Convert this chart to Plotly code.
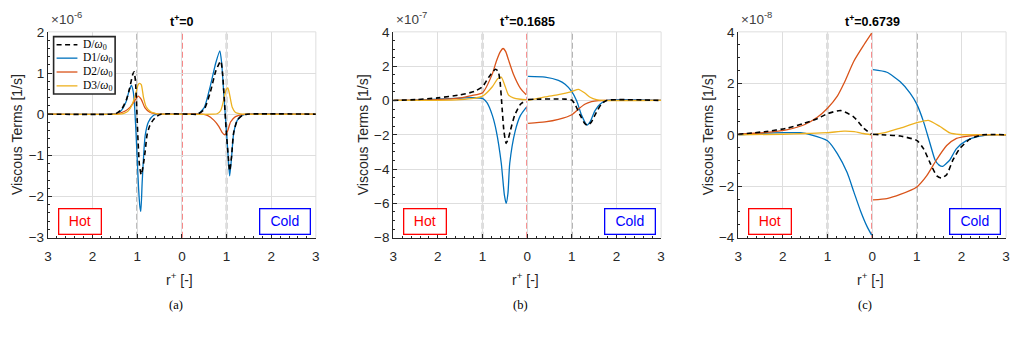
import plotly.graph_objects as go

W, H = 1020, 341

# ---------------- data (display units; panel scale given by exponent) ----------------
X_TICKS = [-3, -2, -1, 0, 1, 2, 3]
X_TICKTEXT = ["3", "2", "1", "0", "1", "2", "3"]
SERIES = ["D", "D1", "D2", "D3"]
SERIES_NAMES = ["D/<i>ω</i><sub>0</sub>", "D1/<i>ω</i><sub>0</sub>",
                "D2/<i>ω</i><sub>0</sub>", "D3/<i>ω</i><sub>0</sub>"]
PANEL_TITLES = ["t<sup>+</sup>=0", "t<sup>+</sup>=0.1685", "t<sup>+</sup>=0.6739"]
PANEL_LABELS = ["(a)", "(b)", "(c)"]
PANEL_EXPONENTS = ["-6", "-7", "-8"]
Y_RANGES = [[-3, 2], [-8, 4], [-4, 4]]
Y_DTICKS = [1, 2, 2]

# Panel (a), x1e-6
A_D_x = [-3, -1.6, -1.47, -1.35, -1.24, -1.17, -1.1, -1.07, -1.04, -1.01, -0.98, -0.95, -0.91, -0.86,
         -0.82, -0.78, -0.72, -0.65, -0.57, -0.47, 0.2, 0.35, 0.5, 0.64, 0.76, 0.87, 0.91, 0.95, 0.99,
         1.04, 1.07, 1.11, 1.16, 1.24, 1.35, 1.46, 3]
A_D_y = [0, 0, 0.02, 0.12, 0.36, 0.63, 0.97, 1.03, 0.8, 0.1, -0.7, -1.25, -1.47, -1.2,
         -0.88, -0.5, -0.28, -0.15, -0.06, 0, 0, 0, 0.12, 0.55, 1.05, 1.29, 1.0, 0.35, -0.35,
         -1.05, -1.38, -1.05, -0.45, -0.15, -0.03, 0, 0]
A_D1_x = [-3, -1.6, -1.45, -1.35, -1.25, -1.18, -1.13, -1.09, -1.06, -1.03, -1.0, -0.97, -0.94, -0.92,
          -0.89, -0.85, -0.82, -0.75, -0.64, -0.5, 0.2, 0.35, 0.5, 0.64, 0.76, 0.85, 0.89, 0.94, 0.99,
          1.04, 1.07, 1.11, 1.16, 1.24, 1.35, 1.46, 3]
A_D1_y = [0, 0, 0.02, 0.1, 0.3, 0.58, 0.70, 0.55, 0.2, -0.4, -1.1, -1.8, -2.25, -2.36,
          -1.66, -0.88, -0.5, -0.19, -0.03, 0, 0, 0, 0.16, 0.70, 1.25, 1.54, 1.25, 0.47, -0.30,
          -1.08, -1.50, -1.08, -0.46, -0.15, -0.03, 0, 0]
A_D2_x = [-3, -1.5, -1.4, -1.28, -1.17, -1.06, -0.98, -0.91, -0.83, -0.72, -0.57, -0.45, 0.45, 0.57,
          0.72, 0.83, 0.90, 0.96, 1.02, 1.09, 1.2, 1.35, 1.5, 3]
A_D2_y = [0, 0, 0.02, 0.07, 0.16, 0.32, 0.44, 0.36, 0.16, 0.05, 0.01, 0, 0, -0.03,
          -0.15, -0.3, -0.44, -0.50, -0.42, -0.19, -0.06, -0.01, 0, 0]
A_D3_x = [-3, -1.4, -1.3, -1.2, -1.13, -1.04, -0.98, -0.95, -0.91, -0.86, -0.80, -0.69, -0.55, -0.45,
          0.7, 0.79, 0.87, 0.94, 0.99, 1.03, 1.07, 1.13, 1.2, 1.31, 1.45, 3]
A_D3_y = [0, 0, 0.02, 0.08, 0.2, 0.47, 0.72, 0.75, 0.72, 0.41, 0.18, 0.05, 0.01, 0,
          0, 0.01, 0.09, 0.36, 0.59, 0.64, 0.47, 0.16, 0.04, 0.01, 0, 0]

# Panel (b), x1e-7  (None separates hot side from cold side)
B_D_x = [-3, -2.5, -2.0, -1.5, -1.19, -1.0, -0.86, -0.71, -0.65, -0.61, -0.56, -0.52, -0.47, -0.42,
         -0.38, -0.28, -0.15, -0.02, None,
         0.02, 0.3, 0.6, 0.85, 1.0, 1.07, 1.19, 1.29, 1.35, 1.44, 1.55, 1.66, 1.78, 3]
B_D_y = [0, 0.05, 0.15, 0.33, 0.52, 0.8, 1.36, 1.82, 1.7, 1.17, -0.5, -1.8, -2.5, -2.2,
         -1.8, -0.87, -0.22, 0.0, None,
         0.06, 0.08, 0.09, 0.08, 0.02, -0.22, -0.87, -1.34, -1.45, -1.25, -0.69, -0.22, 0, 0]
B_D1_x = [-3, -2.5, -2.0, -1.5, -1.2, -1.0, -0.9, -0.78, -0.69, -0.58, -0.51, -0.47, -0.43, -0.39,
          -0.27, -0.15, -0.02, None,
          0.02, 0.4, 0.7, 0.85, 1.0, 1.11, 1.22, 1.34, 1.41, 1.52, 1.63, 1.78, 3]
B_D1_y = [0, 0.02, 0.08, 0.14, 0.16, 0.12, -0.13, -0.87, -1.8, -3.66, -5.52, -6.0, -5.4, -3.66,
          -1.8, -0.87, -0.4, None,
          1.40, 1.36, 1.17, 0.95, 0.52, -0.03, -0.87, -1.43, -1.25, -0.59, -0.22, 0, 0]
B_D2_x = [-3, -2.5, -2.0, -1.5, -1.25, -1.0, -0.78, -0.69, -0.6, -0.54, -0.48, -0.42, -0.31, -0.15,
          -0.02, None,
          0.02, 0.4, 0.7, 1.0, 1.15, 1.29, 1.44, 1.6, 1.75, 3]
B_D2_y = [0, 0.02, 0.05, 0.15, 0.28, 0.45, 1.55, 2.29, 2.85, 3.03, 2.85, 2.38, 1.55, 0.71,
          0.33, None,
          -1.34, -1.25, -1.1, -0.83, -0.5, -0.22, -0.07, -0.01, 0, 0]
B_D3_x = [-3, -2.0, -1.5, -1.2, -1.0, -0.78, -0.66, -0.58, -0.49, -0.42, -0.31, -0.15, -0.02, None,
          0.02, 0.4, 0.7, 1.0, 1.15, 1.29, 1.41, 1.55, 1.7, 3]
B_D3_y = [0, 0.01, 0.05, 0.12, 0.25, 0.80, 1.27, 1.36, 0.80, 0.33, 0.15, 0.07, 0.05, None,
          0, 0.21, 0.34, 0.52, 0.65, 0.43, 0.19, 0.05, 0, 0]

# Panel (c), x1e-8
C_D_x = [-3, -2.41, -1.89, -1.52, -1.22, -1.0, -0.7, -0.41, -0.19, -0.02, None,
         0.02, 0.3, 0.63, 1.0, 1.15, 1.30, 1.45, 1.55, 1.67, 1.81, 1.96, 2.19, 2.48, 3]
C_D_y = [0.02, 0.12, 0.26, 0.45, 0.63, 0.82, 0.94, 0.69, 0.26, 0.02, None,
         0.02, -0.01, -0.05, -0.22, -0.54, -1.10, -1.6, -1.68, -1.55, -0.98, -0.54, -0.17, 0, 0]
C_D1_x = [-3, -2.5, -2.0, -1.6, -1.37, -1.0, -0.78, -0.56, -0.41, -0.26, -0.11, -0.01, None,
          0.02, 0.33, 0.63, 0.85, 1.0, 1.15, 1.30, 1.41, 1.5, 1.58, 1.66, 1.74, 1.89, 2.11, 2.41, 2.7, 3]
C_D1_y = [0, 0.05, 0.08, 0.08, 0.0, -0.23, -0.73, -1.47, -2.22, -2.96, -3.58, -3.9, None,
          2.53, 2.43, 2.06, 1.62, 1.19, 0.51, -0.36, -0.98, -1.18, -1.23, -1.12, -0.98, -0.54, -0.23, -0.05, 0, 0]
C_D2_x = [-3, -2.41, -1.89, -1.52, -1.22, -1.0, -0.78, -0.63, -0.41, -0.19, -0.01, None,
          0.02, 0.33, 0.63, 1.0, 1.22, 1.44, 1.67, 1.89, 2.11, 2.5, 3]
C_D2_y = [0.02, 0.08, 0.2, 0.39, 0.69, 1.03, 1.5, 2.0, 2.86, 3.48, 3.95, None,
          -2.53, -2.48, -2.32, -2.03, -1.6, -0.98, -0.42, -0.14, -0.06, 0, 0]
C_D3_x = [-3, -2.0, -1.5, -1.0, -0.63, -0.4, -0.2, -0.02, None,
          0.02, 0.33, 0.63, 1.0, 1.26, 1.52, 1.74, 1.96, 3]
C_D3_y = [0, 0.02, 0.05, 0.08, 0.14, 0.12, 0.05, 0.0, None,
          0, 0.1, 0.26, 0.47, 0.56, 0.32, 0.07, 0.01, 0]

PANEL_DATA = [
    [(A_D_x, A_D_y), (A_D1_x, A_D1_y), (A_D2_x, A_D2_y), (A_D3_x, A_D3_y)],
    [(B_D_x, B_D_y), (B_D1_x, B_D1_y), (B_D2_x, B_D2_y), (B_D3_x, B_D3_y)],
    [(C_D_x, C_D_y), (C_D1_x, C_D1_y), (C_D2_x, C_D2_y), (C_D3_x, C_D3_y)],
]

# ---------------- style / layout ----------------
COLORS = ["#000000", "#0072BD", "#D95319", "#EDB120"]
DASH_D = "5px,3.5px"
SANS = "Liberation Sans, Arial, sans-serif"
SERIF = "Liberation Serif, DejaVu Serif, serif"
PLOT_LEFT = [44.3, 392.3, 740.0]
PLOT_W = 270.0
PLOT_TOP, PLOT_BOT = 26.0, 241.3
LABEL_X = [173, 521, 868]
GRID = "#dedede"
AX = "#262626"


def px(x):
    return x / W


def py(y):
    return 1 - y / H


fig = go.Figure()

for p in range(3):
    xa = "x" if p == 0 else f"x{p + 1}"
    ya = "y" if p == 0 else f"y{p + 1}"
    # draw coloured components first, total D last (on top)
    for s in [1, 2, 3, 0]:
        xs, ys = PANEL_DATA[p][s]
        fig.add_trace(go.Scatter(
            x=xs, y=ys, mode="lines", xaxis=xa, yaxis=ya,
            name=SERIES[s], showlegend=False,
            line=dict(color=COLORS[s], width=1.6 if s == 0 else 1.3,
                      dash=DASH_D if s == 0 else "solid",
                      shape="spline", smoothing=0.6),
            connectgaps=False,
        ))

layout = dict(
    width=W, height=H,
    margin=dict(l=0, r=0, t=0, b=0),
    paper_bgcolor="white", plot_bgcolor="white",
    font=dict(family=SANS, size=12, color=AX),
    showlegend=False,
)

annotations = []
shapes = []
for p in range(3):
    sfx = "" if p == 0 else str(p + 1)
    x0 = PLOT_LEFT[p]
    dom_x = [px(x0), px(x0 + PLOT_W)]
    layout["xaxis" + sfx] = dict(
        domain=dom_x, anchor="y" + sfx, range=[-3, 3],
        tickvals=X_TICKS, ticktext=X_TICKTEXT,
        showgrid=True, gridcolor=GRID, gridwidth=1,
        zeroline=False, showline=True, linecolor=AX, linewidth=1.2,
        ticks="inside", ticklen=4, tickcolor=AX, ticklabelstandoff=6,
        minor=dict(ticks="inside", ticklen=2, dtick=0.2, tickcolor=AX, showgrid=False),
        tickfont=dict(family=SANS, size=13.5, color=AX),
        fixedrange=True,
    )
    layout["yaxis" + sfx] = dict(
        domain=[py(PLOT_BOT), py(PLOT_TOP)], anchor="x" + sfx,
        range=Y_RANGES[p], dtick=Y_DTICKS[p], tick0=0,
        showgrid=True, gridcolor=GRID, gridwidth=1,
        zeroline=False, showline=True, linecolor=AX, linewidth=1.2,
        ticks="inside", ticklen=4, tickcolor=AX,
        minor=dict(ticks="inside", ticklen=2, dtick=0.2 if p == 0 else 0.5,
                   tickcolor=AX, showgrid=False),
        tickfont=dict(family=SANS, size=13.5, color=AX),
        fixedrange=True,
    )
    xref = "x" + sfx
    # boundary lines top/right (grid-like)
    shapes.append(dict(type="line", xref="paper", yref="paper",
                       x0=px(x0), x1=px(x0 + PLOT_W), y0=py(PLOT_TOP), y1=py(PLOT_TOP),
                       line=dict(color=GRID, width=1), layer="below"))
    shapes.append(dict(type="line", xref="paper", yref="paper",
                       x0=px(x0 + PLOT_W), x1=px(x0 + PLOT_W), y0=py(PLOT_BOT), y1=py(PLOT_TOP),
                       line=dict(color=GRID, width=1), layer="below"))
    # vertical reference lines
    for xv, col in [(-1, "rgba(110,110,110,0.9)"), (1, "rgba(110,110,110,0.9)"),
                    (0, "rgba(242,70,70,1)")]:
        shapes.append(dict(type="line", xref=xref, yref=f"y{sfx} domain",
                           x0=xv, x1=xv, y0=0, y1=1,
                           line=dict(color=col, width=1.5, dash="6px,3px"), layer="below"))
    # title
    annotations.append(dict(text="<b>" + PANEL_TITLES[p] + "</b>", xref="paper", yref="paper",
                            x=px(x0 + PLOT_W / 2), y=py(15), xanchor="center", yanchor="middle",
                            showarrow=False, font=dict(family=SANS, size=12.5, color="#000000")))
    # exponent
    annotations.append(dict(text="×10<sup>" + PANEL_EXPONENTS[p] + "</sup>", xref="paper", yref="paper",
                            x=px(x0 + 1), y=py(12), xanchor="left", yanchor="middle",
                            showarrow=False, font=dict(family=SANS, size=13.5, color="#404040")))
    # y-axis title
    annotations.append(dict(text="Viscous Terms [1/s]", xref="paper", yref="paper",
                            x=px(x0 - 31), y=py((PLOT_TOP + PLOT_BOT) / 2), textangle=-90,
                            xanchor="center", yanchor="middle",
                            showarrow=False, font=dict(family=SANS, size=14, color=AX)))
    # x-axis title
    annotations.append(dict(text="r<sup>+</sup> [-]", xref="paper", yref="paper",
                            x=px(x0 + PLOT_W / 2 - 2), y=py(285), xanchor="center", yanchor="middle",
                            showarrow=False, font=dict(family=SANS, size=14, color=AX)))
    # sub-figure label
    annotations.append(dict(text=PANEL_LABELS[p], xref="paper", yref="paper",
                            x=px(LABEL_X[p]), y=py(312), xanchor="center", yanchor="middle",
                            showarrow=False, font=dict(family=SERIF, size=12.5, color="#000000")))
    # Hot / Cold boxes
    annotations.append(dict(text="Hot", xref="paper", yref="paper",
                            x=px(x0 + 10), y=py(239), xanchor="left", yanchor="bottom",
                            width=41, height=24, borderpad=0, borderwidth=1.3,
                            bordercolor="#ff0000", bgcolor="white",
                            showarrow=False, font=dict(family=SANS, size=14, color="#ff0000")))
    annotations.append(dict(text="Cold", xref="paper", yref="paper",
                            x=px(x0 + PLOT_W - 5), y=py(239), xanchor="right", yanchor="bottom",
                            width=49, height=24, borderpad=0, borderwidth=1.3,
                            bordercolor="#0000ff", bgcolor="white",
                            showarrow=False, font=dict(family=SANS, size=14, color="#0000ff")))

# legend box (panel a), drawn in paper space
LEG_X0, LEG_X1, LEG_Y0, LEG_Y1 = 50, 112, 31, 91
LEG_ROWS = [39.5, 53.5, 68, 82.5]
shapes.append(dict(type="rect", xref="paper", yref="paper",
                   x0=px(LEG_X0), x1=px(LEG_X1), y0=py(LEG_Y1), y1=py(LEG_Y0),
                   line=dict(color=AX, width=1.6), fillcolor="white", layer="above"))
for s in range(4):
    shapes.append(dict(type="line", xref="paper", yref="paper",
                       x0=px(53), x1=px(74), y0=py(LEG_ROWS[s]), y1=py(LEG_ROWS[s]),
                       line=dict(color=COLORS[s], width=1.6 if s == 0 else 1.3,
                                 dash=DASH_D if s == 0 else "solid"), layer="above"))
    annotations.append(dict(text=SERIES_NAMES[s], xref="paper", yref="paper",
                            x=px(78), y=py(LEG_ROWS[s]), xanchor="left", yanchor="middle",
                            showarrow=False, font=dict(family=SERIF, size=11.5, color="#000000")))

layout["annotations"] = annotations
layout["shapes"] = shapes
fig.update_layout(**layout)

fig.write_html("out.html")
